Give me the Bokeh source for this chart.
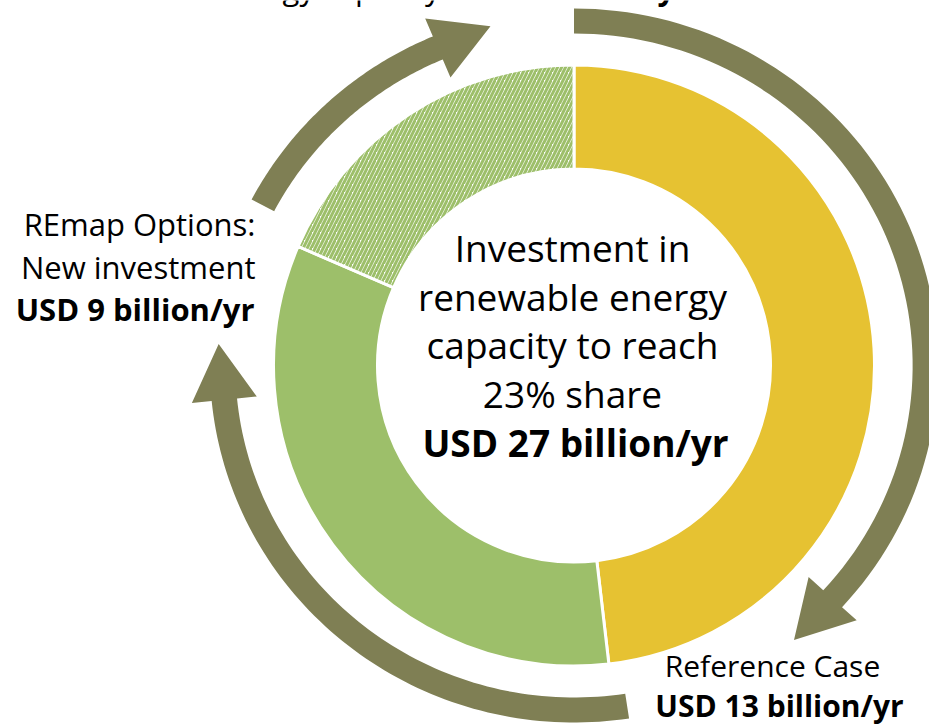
import math
import numpy as np
from bokeh.plotting import figure
from bokeh.models import ColumnDataSource, Range1d
from bokeh.core.properties import value
from bokeh.embed import file_html
from bokeh.resources import INLINE

# ---------------- data ----------------
segments = ["Reference Case", "REmap Options: New investment", "Renewable energy capacity"]
investment = [13, 9, 5]          # USD billion/yr
segment_colors = ["#E6C232", "#9DBF6A", "#FFFFFF"]
segment_hatch = [" ", " ", "/"]

center_lines = ["Investment in", "renewable energy", "capacity to reach", "23% share"]
center_value = "USD 27 billion/yr"

left_label = ["REmap Options:", "New investment"]
left_value = "USD 9 billion/yr"
bottom_label = ["Reference Case"]
bottom_value = "USD 13 billion/yr"
top_label = ["Renewable energy capacity"]
top_value = "USD 5 billion/yr"

# ---------------- layout (reference pixel frame, y measured upward) ----------------
W, H = 929, 727
def Y(y):
    return H - y

CX, CY = 573.5, Y(365)
R_OUT, R_IN = 300.5, 196.5
ARROW_COLOR = "#7F7F54"
FONT = "Open Sans"
TXT_SHIFT = 14   # compensates the renderer's baseline offset

p = figure(width=W, height=H, output_backend="svg", toolbar_location=None,
           x_range=Range1d(0, W), y_range=Range1d(0, H),
           x_axis_type=None, y_axis_type=None, min_border=0,
           background_fill_color="white", border_fill_color="white")
p.grid.visible = False
p.outline_line_color = None

# ---------------- donut ----------------
total = float(sum(investment))
cum = np.concatenate([[0.0], np.cumsum(investment)]) / total * 360.0   # clockwise from top (deg)
start = [math.radians(90 - a) for a in cum[:-1]]
end = [math.radians(90 - a) for a in cum[1:]]
src = ColumnDataSource(dict(
    x=[CX] * len(investment), y=[CY] * len(investment),
    start=start, end=end, color=segment_colors, hatch=segment_hatch,
    name=segments, val=investment))
p.annular_wedge(x="x", y="y", inner_radius=R_IN, outer_radius=R_OUT,
                start_angle="start", end_angle="end", direction="clock",
                fill_color="color", line_color="white", line_width=3,
                hatch_pattern="hatch", hatch_color="#9DBF6A", hatch_weight=3,
                hatch_scale=8, source=src)

# ---------------- curved arrows ----------------
AX, AY = 573.5, Y(365)
AR, AW = 344.5, 25.0
KX = 1.02
HEAD_L, HEAD_W = 56.0, 64.0

def pt(r, th_deg):
    t = math.radians(th_deg)
    return (AX + KX * r * math.sin(t), AY + r * math.cos(t))

def arrow(th0, th1):
    n = 80
    ths = np.linspace(th0, th1, n)
    outer = [pt(AR + AW / 2, t) for t in ths]
    inner = [pt(AR - AW / 2, t) for t in ths[::-1]]
    t1 = math.radians(th1)
    bx, by = AR * math.sin(t1), AR * math.cos(t1)
    nx, ny = math.sin(t1), math.cos(t1)
    tx, ty = math.cos(t1), -math.sin(t1)
    c1 = (bx + nx * HEAD_W / 2, by + ny * HEAD_W / 2)
    tip = (bx + tx * HEAD_L, by + ty * HEAD_L)
    c2 = (bx - nx * HEAD_W / 2, by - ny * HEAD_W / 2)
    head = [(AX + KX * a, AY + b) for a, b in (c1, tip, c2)]
    pts = outer + head + inner
    return [q[0] for q in pts], [q[1] for q in pts]

arrow_spans = [(0.0, 132.6), (171.3, 264.3), (297.7, 337.2)]
xs, ys = [], []
for a0, a1 in arrow_spans:
    ax_, ay_ = arrow(a0, a1)
    xs.append(ax_)
    ys.append(ay_)
p.patches(xs=xs, ys=ys, fill_color=ARROW_COLOR, line_color=None)

# ---------------- texts ----------------
def txt(x, yref, s, size, align, bold=False):
    p.text(x=[x], y=[Y(yref - TXT_SHIFT)], text=[s], text_font=value(FONT),
           text_font_size=size, text_align=align, text_baseline="alphabetic",
           text_color="black", text_font_style="bold" if bold else "normal")

center_base = [261, 310, 358, 407]
for s, b in zip(center_lines, center_base):
    txt(572, b, s, "37px", "center")
txt(575, 456, center_value, "37px", "center", bold=True)

for s, b in zip(left_label, [237, 280]):
    txt(255, b, s, "31px", "right")
txt(254, 322, left_value, "31px", "right", bold=True)

txt(772, 679, bottom_label[0], "30px", "center")
txt(779, 719, bottom_value, "30px", "center", bold=True)

txt(440, 1, top_label[0], "31px", "right")
txt(450, 1, top_value, "31px", "left", bold=True)

open("out.html", "w").write(file_html(p, INLINE))
